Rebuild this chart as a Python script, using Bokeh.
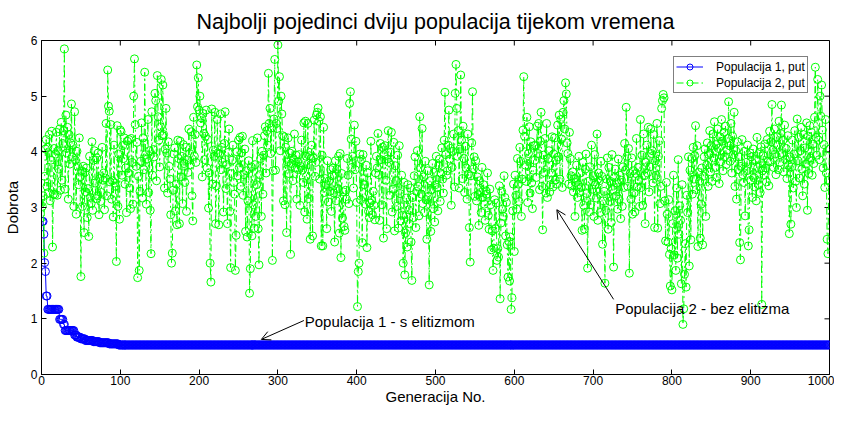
from bokeh.plotting import figure
from bokeh.models import Arrow, OpenHead, Legend, LegendItem, Label
from bokeh.embed import file_html
from bokeh.resources import INLINE

FONT = "Liberation Sans"

title_text = "Najbolji pojedinci dviju populacija tijekom vremena"
x_label = "Generacija No."
y_label = "Dobrota"
series_names = ["Populacija 1, put", "Populacija 2, put"]
note1 = "Populacija 1 - s elitizmom"
note2 = "Populacija 2 - bez elitizma"
x_ticks = [0, 100, 200, 300, 400, 500, 600, 700, 800, 900, 1000]
y_ticks = [0, 1, 2, 3, 4, 5, 6]

# Population 1 (with elitism): best fitness as (value, number of generations)
pop1_runs = [(2.75, 2), (2.52, 1), (2.01, 1), (1.85, 1), (1.41, 2), (1.17, 15),
             (0.99, 5), (0.90, 2), (0.79, 12), (0.71, 3), (0.67, 5), (0.64, 6),
             (0.61, 10), (0.59, 8), (0.57, 12), (0.55, 12), (0.53, 903)]

# Population 2 (without elitism): best fitness per generation 1..1000
pop2_fitness = [
    3.02, 3.21, 2.18, 3.56, 4.05, 4.22, 3.38, 4.08, 3.27, 4.31, 3.12, 3.85, 4.37, 2.29, 3.24, 4.06, 3.23, 3.96, 4.35, 3.22, 4.02, 3.69, 4.41, 3.31, 4.53,
    3.49, 4.15, 4.38, 5.85, 3.33, 4.66, 3.98, 4.44, 3.15, 4.31, 3.78, 4.16, 4.86, 3.91, 4.12, 3.02, 4.72, 3.85, 2.88, 4.01, 3.74, 3.41, 4.25, 3.55, 1.76,
    3.66, 3.02, 3.74, 2.55, 3.63, 3.28, 3.71, 2.82, 3.34, 2.48, 3.92, 3.18, 3.07, 4.18, 2.95, 3.85, 4.02, 3.44, 3.16, 3.89, 3.21, 3.98, 2.87, 3.52, 3.11,
    3.27, 4.08, 3.49, 3.62, 2.96, 3.53, 4.51, 3.21, 5.47, 4.82, 4.73, 3.46, 4.49, 3.15, 3.48, 2.83, 4.12, 3.44, 3.38, 2.03, 4.47, 3.02, 3.96, 2.79, 4.39,
    4.36, 3.58, 4.11, 3.88, 4.25, 3.42, 3.71, 2.91, 4.19, 3.62, 4.22, 3.35, 2.98, 4.24, 3.81, 3.06, 5.00, 5.67, 4.49, 3.74, 4.17, 1.74, 3.56, 1.87, 3.29,
    3.83, 4.52, 3.17, 4.25, 3.68, 5.43, 3.95, 3.06, 3.87, 4.58, 3.27, 4.02, 2.95, 2.17, 4.72, 3.58, 4.04, 3.91, 5.05, 4.92, 3.48, 5.37, 4.63, 4.21, 3.73,
    4.45, 5.30, 4.29, 5.20, 4.31, 3.35, 4.05, 4.78, 3.98, 3.26, 4.18, 3.74, 3.51, 2.87, 2.00, 2.18, 3.31, 3.96, 4.07, 2.94, 3.42, 2.69, 4.21, 3.88, 2.71,
    4.19, 3.55, 3.92, 3.07, 4.13, 3.79, 3.45, 4.08, 2.93, 3.86, 3.63, 4.41, 3.97, 3.77, 4.36, 3.21, 2.76, 4.62, 3.92, 4.31, 3.81, 5.56, 4.81, 5.33, 4.75,
    5.00, 4.52, 4.61, 3.55, 4.69, 4.33, 3.86, 4.28, 4.75, 3.71, 4.22, 2.99, 3.62, 2.00, 1.66, 4.77, 3.42, 4.03, 3.92, 4.71, 2.71, 3.39, 4.58, 3.98, 2.69,
    3.96, 4.68, 3.68, 4.08, 3.81, 2.92, 4.15, 4.72, 3.34, 3.77, 2.71, 3.99, 4.41, 2.93, 1.92, 3.61, 3.85, 4.12, 3.45, 3.24, 1.87, 2.50, 4.00, 3.57, 4.21,
    3.72, 4.26, 3.38, 3.98, 4.28, 3.22, 3.59, 4.05, 2.57, 3.66, 2.47, 3.12, 3.84, 1.46, 1.90, 3.73, 2.49, 4.20, 3.05, 2.63, 3.77, 2.84, 3.41, 4.25, 2.62,
    1.97, 3.59, 3.88, 2.84, 4.01, 3.24, 3.94, 4.29, 4.45, 3.62, 4.38, 4.12, 5.41, 4.51, 4.78, 3.97, 4.43, 2.05, 3.66, 4.59, 5.66, 3.67, 4.51, 4.42, 5.92,
    4.91, 5.35, 4.02, 5.00, 4.68, 4.29, 3.12, 4.27, 3.05, 4.08, 2.55, 3.82, 4.25, 3.61, 3.98, 2.16, 3.79, 4.01, 3.48, 3.86, 4.32, 3.71, 3.94, 3.15, 3.82,
    3.68, 3.95, 3.04, 3.74, 4.21, 3.67, 3.45, 4.52, 2.92, 4.55, 3.92, 2.79, 4.51, 3.16, 3.93, 2.43, 3.88, 4.12, 2.49, 3.89, 4.57, 3.56, 3.81, 4.66, 4.71,
    4.79, 4.55, 3.51, 4.63, 2.31, 3.94, 2.31, 4.44, 3.27, 3.52, 3.41, 2.62, 3.84, 3.10, 3.48, 3.29, 3.68, 2.93, 3.57, 3.71, 3.26, 2.38, 3.84, 3.12, 3.69,
    3.34, 3.92, 2.54, 3.97, 2.10, 3.61, 2.81, 3.28, 2.66, 2.59, 3.31, 3.15, 3.88, 3.58, 3.07, 4.87, 5.08, 4.23, 3.72, 3.92, 3.35, 4.48, 3.68, 4.19, 3.09,
    1.22, 1.85, 2.00, 3.96, 3.14, 3.86, 2.37, 3.95, 3.41, 3.41, 3.06, 3.76, 2.28, 3.62, 2.93, 2.82, 3.08, 4.19, 3.13, 2.87, 3.29, 3.04, 2.78, 3.62, 3.92,
    3.71, 4.33, 3.59, 2.77, 4.15, 3.86, 3.05, 4.08, 2.45, 3.95, 4.11, 3.49, 2.62, 3.87, 4.38, 3.81, 3.22, 3.99, 4.35, 2.92, 3.33, 4.17, 2.58, 3.75, 3.48,
    3.02, 3.94, 2.63, 4.11, 3.25, 2.76, 3.58, 2.86, 2.00, 3.45, 1.79, 2.54, 3.17, 2.29, 3.41, 2.96, 2.71, 3.35, 2.38, 1.69, 3.18, 2.82, 3.57, 3.91, 2.64,
    3.29, 4.02, 3.38, 2.85, 4.63, 3.71, 3.24, 4.42, 3.07, 3.55, 2.91, 3.83, 3.14, 2.43, 3.66, 3.20, 1.61, 3.48, 2.57, 3.32, 3.79, 2.98, 3.63, 2.74, 3.41,
    3.92, 3.36, 2.94, 3.76, 3.87, 3.11, 3.61, 4.07, 3.51, 3.26, 4.21, 5.07, 3.95, 3.58, 3.66, 4.12, 4.75, 3.87, 4.06, 3.04, 3.72, 4.01, 4.32, 3.37, 5.05,
    5.57, 4.78, 3.92, 4.38, 3.35, 4.05, 5.38, 4.21, 3.52, 4.46, 3.88, 3.27, 4.10, 3.71, 3.15, 4.32, 3.60, 2.64, 2.02, 3.57, 4.16, 5.08, 3.69, 3.91, 3.20,
    3.84, 3.12, 3.55, 3.23, 2.68, 3.48, 3.27, 2.91, 3.72, 3.18, 3.41, 3.06, 2.77, 3.30, 3.24, 3.62, 2.86, 2.61, 3.33, 3.05, 2.24, 2.58, 1.87, 2.27, 3.14,
    2.62, 3.08, 2.05, 2.26, 2.11, 3.39, 1.36, 2.72, 3.29, 2.97, 2.84, 3.57, 3.18, 2.49, 3.09, 2.33, 1.75, 2.39, 1.68, 2.47, 1.17, 1.38, 2.94, 3.42, 2.21,
    3.58, 3.22, 2.97, 3.88, 3.42, 3.11, 4.08, 3.83, 2.84, 3.51, 4.39, 5.35, 4.28, 3.76, 3.47, 4.62, 3.09, 3.97, 4.45, 3.26, 4.18, 3.44, 2.98, 3.67, 4.11,
    3.85, 4.12, 3.54, 4.46, 3.97, 4.51, 3.32, 4.19, 4.71, 3.38, 2.60, 3.94, 3.63, 4.24, 3.26, 4.51, 3.18, 3.88, 4.02, 3.28, 3.41, 3.62, 4.27, 3.37, 3.96,
    4.25, 3.49, 3.85, 3.42, 4.48, 3.91, 4.66, 3.51, 4.58, 4.23, 3.36, 4.71, 4.92, 4.41, 5.24, 5.04, 4.16, 3.97, 3.42, 4.35, 3.88, 3.57, 3.39, 3.64, 3.28,
    3.52, 2.84, 3.45, 3.76, 3.18, 3.41, 3.92, 3.27, 3.62, 3.36, 2.59, 3.81, 3.04, 2.61, 3.69, 3.96, 3.25, 1.91, 3.47, 2.92, 3.73, 3.05, 4.12, 3.33, 3.57,
    2.84, 3.95, 3.41, 3.17, 4.32, 2.77, 3.62, 3.48, 2.91, 3.83, 3.56, 2.34, 3.12, 3.29, 1.64, 2.95, 3.51, 3.89, 2.61, 3.72, 3.11, 3.47, 2.73, 3.95, 3.32,
    1.93, 3.54, 3.69, 3.21, 3.44, 2.97, 3.87, 3.15, 3.58, 2.80, 3.49, 3.02, 3.73, 3.36, 4.15, 3.67, 4.80, 3.92, 3.38, 4.06, 1.82, 3.61, 3.15, 3.89, 2.88,
    3.66, 3.26, 2.92, 3.61, 4.24, 3.37, 3.72, 3.49, 3.02, 4.58, 3.36, 3.94, 3.04, 4.32, 3.57, 2.71, 3.81, 4.12, 3.62, 4.44, 3.28, 3.73, 4.41, 3.97, 4.02,
    3.44, 4.31, 2.64, 3.84, 3.58, 4.51, 2.63, 3.92, 4.20, 3.07, 3.38, 4.78, 4.92, 5.03, 4.97, 3.12, 2.40, 3.45, 2.88, 2.38, 3.14, 2.16, 1.59, 2.26, 1.52,
    2.71, 3.58, 2.15, 2.94, 1.87, 3.35, 2.09, 3.86, 2.52, 3.03, 2.77, 1.63, 3.41, 0.90, 1.18, 1.80, 2.35, 1.57, 3.22, 2.91, 3.91, 1.95, 3.67, 2.42, 3.88,
    3.24, 4.08, 3.51, 3.93, 4.47, 3.32, 4.11, 2.30, 3.63, 3.47, 2.45, 3.06, 3.71, 2.33, 3.56, 3.91, 4.05, 2.84, 3.76, 4.16, 3.38, 3.95, 4.38, 3.64, 4.11,
    3.47, 4.32, 3.89, 4.54, 3.72, 4.13, 3.54, 4.41, 4.06, 3.43, 4.27, 3.82, 4.58, 4.19, 3.66, 4.35, 3.91, 4.46, 3.77, 4.03, 4.24, 4.90, 4.11, 3.83, 4.51,
    3.62, 4.28, 3.95, 4.71, 3.38, 4.02, 3.15, 4.18, 3.68, 3.91, 2.37, 2.06, 3.74, 4.22, 3.59, 3.45, 4.01, 2.85, 3.81, 3.66, 4.12, 2.31, 2.60, 3.98, 3.49,
    3.91, 3.18, 4.05, 3.54, 3.37, 3.86, 3.12, 4.26, 3.72, 3.41, 3.99, 3.27, 4.09, 1.26, 3.66, 3.93, 3.58, 4.14, 3.71, 3.46, 4.22, 3.83, 3.39, 4.37, 3.82,
    4.18, 4.85, 4.03, 3.72, 4.41, 3.96, 3.59, 4.27, 4.12, 3.68, 4.55, 3.81, 4.33, 4.84, 3.97, 4.21, 3.64, 4.48, 3.86, 4.06, 3.52, 4.29, 3.76, 2.53, 3.91,
    2.70, 3.73, 4.21, 3.35, 3.96, 4.38, 3.47, 3.00, 4.59, 3.84, 4.26, 3.53, 4.02, 4.44, 3.69, 3.21, 4.31, 3.42, 4.07, 3.78, 4.52, 2.95, 4.28, 3.61, 4.47,
    3.89, 4.35, 3.58, 4.14, 3.79, 4.62, 5.52, 4.26, 3.94, 5.30, 4.21, 3.86, 5.00, 4.64, 5.20, 4.39, 3.71, 4.13, 3.36, 4.58, 3.62, 2.43, 2.17, 3.49, 4.05,
]

pop1_fitness = []
for val, count in pop1_runs:
    pop1_fitness.extend([val] * count)
gen1 = list(range(1, len(pop1_fitness) + 1))
gen2 = list(range(1, len(pop2_fitness) + 1))

BLUE = "#0000FF"
GREEN = "#00FF00"

p = figure(width=834, height=407, x_range=(0, 1000), y_range=(0, 6),
           output_backend="svg", toolbar_location=None,
           min_border_left=0, min_border_right=5, min_border_top=0, min_border_bottom=0)
p.background_fill_color = "white"
p.border_fill_color = "white"
p.outline_line_color = "black"
p.outline_line_width = 1
p.xgrid.visible = False
p.ygrid.visible = False

p.title.text = title_text
p.title.text_font = FONT
p.title.text_font_size = "21.5px"
p.title.text_font_style = "normal"
p.title.text_color = "black"
p.title.align = "center"
p.title.standoff = 14

for ax in (p.xaxis[0], p.yaxis[0]):
    ax.major_tick_in = 5
    ax.major_tick_out = 0
    ax.minor_tick_line_color = None
    ax.axis_line_color = "black"
    ax.major_tick_line_color = "black"
    ax.major_label_text_font = FONT
    ax.major_label_text_color = "black"
    ax.major_label_text_font_size = "12px"
    ax.axis_label_text_font = FONT
    ax.axis_label_text_font_size = "15px"
    ax.axis_label_text_font_style = "normal"
    ax.axis_label_text_color = "black"
p.xaxis.major_label_standoff = 1
p.yaxis.major_label_standoff = 4
p.xaxis.ticker = x_ticks
p.yaxis.ticker = y_ticks
p.xaxis.axis_label = x_label
p.yaxis.axis_label = y_label
p.xaxis.axis_label_standoff = 0
p.yaxis.axis_label_standoff = 7

# inward ticks on the top and right edges of the box (5 px long)
FRAME_W, FRAME_H = 786, 334
tick_dx = 5 * 1000 / FRAME_W
tick_dy = 5 * 6 / FRAME_H
p.segment(x0=x_ticks, y0=[6] * len(x_ticks), x1=x_ticks, y1=[6 - tick_dy] * len(x_ticks),
          line_color="black", line_width=1)
p.segment(x0=[1000] * len(y_ticks), y0=y_ticks, x1=[1000 - tick_dx] * len(y_ticks), y1=y_ticks,
          line_color="black", line_width=1)

l1 = p.line(gen1, pop1_fitness, line_color=BLUE, line_width=1)
s1 = p.scatter(gen1, pop1_fitness, marker="circle", size=8, line_color=BLUE,
               fill_color=None, line_width=1)
l2 = p.line(gen2, pop2_fitness, line_color=GREEN, line_width=1, line_dash="7 3 2 3")
s2 = p.scatter(gen2, pop2_fitness, marker="circle", size=8, line_color=GREEN,
               fill_color=None, line_width=1)

legend = Legend(items=[LegendItem(label=series_names[0], renderers=[l1, s1]),
                       LegendItem(label=series_names[1], renderers=[l2, s2])],
                location=(632, 281))
legend.label_text_font = FONT
legend.label_text_font_size = "12px"
legend.label_text_color = "black"
legend.border_line_color = "black"
legend.border_line_width = 1.5
legend.background_fill_color = "white"
legend.background_fill_alpha = 1
legend.glyph_width = 27
legend.glyph_height = 15
legend.label_height = 15
legend.label_standoff = 13
legend.padding = 2
legend.spacing = 1
legend.margin = 0
p.add_layout(legend)

p.add_layout(Label(x=334, y=0.95, text=note1, text_font=FONT, text_font_size="15px",
                   text_baseline="middle", text_align="left", text_color="black"))
p.add_layout(Label(x=728, y=1.19, text=note2, text_font=FONT, text_font_size="15px",
                   text_baseline="middle", text_align="left", text_color="black"))
p.add_layout(Arrow(end=OpenHead(size=9, line_width=1, line_color="black"),
                   x_start=333, y_start=0.97, x_end=279, y_end=0.63,
                   line_color="black", line_width=1))
p.add_layout(Arrow(end=OpenHead(size=9, line_width=1, line_color="black"),
                   x_start=726, y_start=1.35, x_end=654, y_end=2.96,
                   line_color="black", line_width=1))

open("out.html", "w").write(file_html(p, INLINE))
